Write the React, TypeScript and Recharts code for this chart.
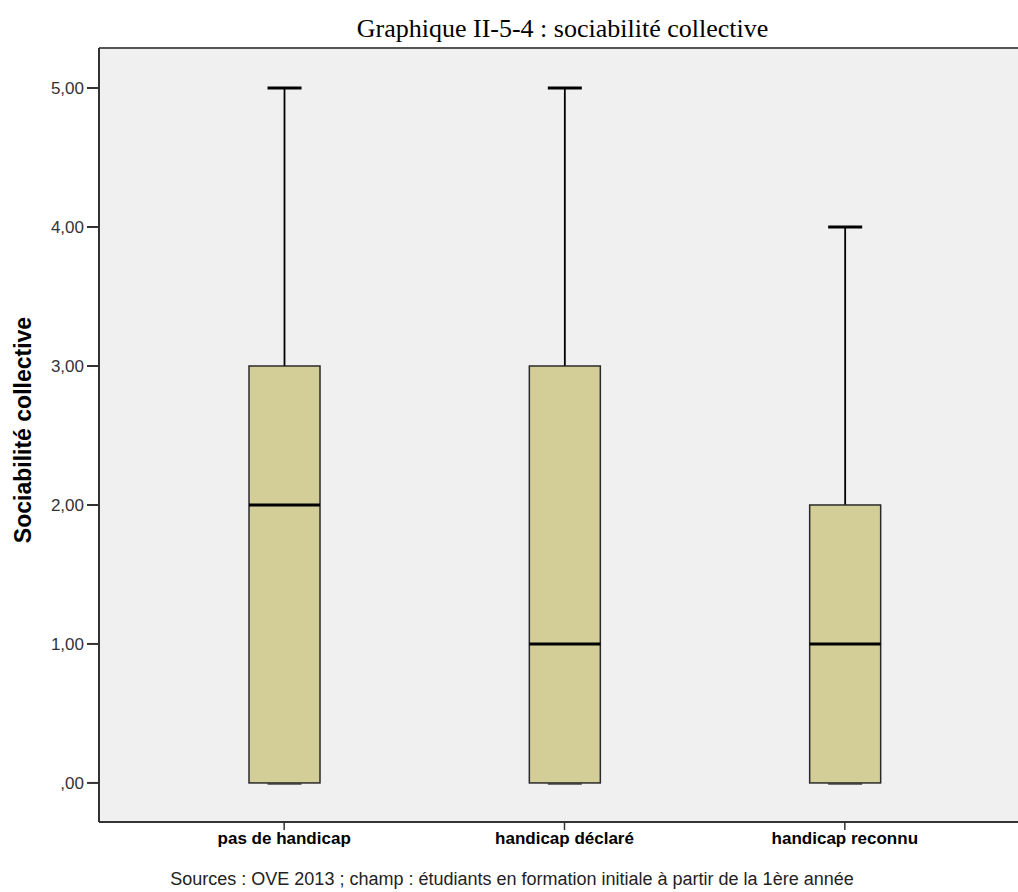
import React from "react";
import {
  ComposedChart,
  Bar,
  XAxis,
  YAxis,
  CartesianGrid,
  ReferenceLine,
} from "recharts";

const categories = ["pas de handicap", "handicap déclaré", "handicap reconnu"];
const minValues = [0, 0, 0];
const q1Values = [0, 0, 0];
const medianValues = [2, 1, 1];
const q3Values = [3, 3, 2];
const maxValues = [5, 5, 4];
const yTicks = [0, 1, 2, 3, 4, 5];
const yTickLabels = [",00", "1,00", "2,00", "3,00", "4,00", "5,00"];

const TITLE = "Graphique II-5-4 : sociabilité collective";
const Y_LABEL = "Sociabilité collective";
const CAPTION =
  "Sources : OVE 2013 ; champ : étudiants en formation initiale à partir de la 1ère année";

const data = categories.map((name, i) => ({
  name,
  min: minValues[i],
  q1: q1Values[i],
  median: medianValues[i],
  q3: q3Values[i],
  max: maxValues[i],
}));

const Y_MIN = -0.281;
const Y_MAX = 5.288;

const BoxShape = (props: any) => {
  const { x, y, width, height, payload } = props;
  const { min, q1, median, q3, max } = payload;
  const unit = height / (max - min);
  const yOf = (v: number) => y + (max - v) * unit;
  const cx = x + width / 2;
  const capW = 34;
  return (
    <g>
      <line x1={cx} x2={cx} y1={yOf(max)} y2={yOf(q3)} stroke="#000" strokeWidth={1.8} />
      <line x1={cx} x2={cx} y1={yOf(q1)} y2={yOf(min)} stroke="#000" strokeWidth={1.8} />
      <line x1={cx - capW / 2} x2={cx + capW / 2} y1={yOf(max)} y2={yOf(max)} stroke="#000" strokeWidth={3} />
      <line x1={cx - capW / 2} x2={cx + capW / 2} y1={yOf(min) + 1} y2={yOf(min) + 1} stroke="#444" strokeWidth={1.5} />
      <rect
        x={x}
        y={yOf(q3)}
        width={width}
        height={yOf(q1) - yOf(q3)}
        fill="#d3ce97"
        stroke="#2a2a2a"
        strokeWidth={1.5}
      />
      <line x1={x} x2={x + width} y1={yOf(median)} y2={yOf(median)} stroke="#000" strokeWidth={3} />
    </g>
  );
};

export default function App() {
  return (
    <div style={{ position: "absolute", left: 0, top: 0, width: 1018, height: 892, background: "#fff", overflow: "hidden" }}>
      <div
        style={{
          position: "absolute",
          left: 0,
          width: 1125,
          top: 14,
          textAlign: "center",
          fontFamily: "'Liberation Serif', 'Times New Roman', serif",
          fontSize: 26,
          color: "#000",
          lineHeight: "30px",
          whiteSpace: "nowrap",
        }}
      >
        {TITLE}
      </div>
      <div
        style={{
          position: "absolute",
          left: 23,
          top: 430,
          transform: "translate(-50%, -50%) rotate(-90deg)",
          whiteSpace: "nowrap",
          fontFamily: "'Liberation Sans', Arial, sans-serif",
          fontWeight: "bold",
          fontSize: 23,
          lineHeight: "26px",
          color: "#000",
        }}
      >
        {Y_LABEL}
      </div>
      <ComposedChart
        width={1018}
        height={892}
        data={data}
        margin={{ top: 48, right: 0, bottom: 40, left: 39 }}
        style={{ position: "absolute", left: 0, top: 0 }}
      >
        <CartesianGrid horizontal={false} vertical={false} fill="#f0f0f0" />
        <ReferenceLine y={Y_MAX} stroke="#555" strokeWidth={2} ifOverflow="extendDomain" />
        <XAxis
          dataKey="name"
          type="category"
          height={30}
          padding={{ left: 45, right: 33 }}
          axisLine={{ stroke: "#333", strokeWidth: 2 }}
          tickLine={{ stroke: "#333", strokeWidth: 1.5 }}
          tickSize={8}
          tick={{
            fill: "#000",
            fontSize: 17,
            fontWeight: "bold",
            fontFamily: "'Liberation Sans', Arial, sans-serif",
          }}
        />
        <YAxis
          type="number"
          width={60}
          domain={[Y_MIN, Y_MAX]}
          allowDataOverflow
          ticks={yTicks}
          tickFormatter={(v: number) => yTickLabels[yTicks.indexOf(v)]}
          axisLine={{ stroke: "#333", strokeWidth: 2 }}
          tickLine={{ stroke: "#333", strokeWidth: 2 }}
          tickSize={12}
          tickMargin={3}
          tick={{
            fill: "#333",
            fontSize: 17,
            fontFamily: "'Liberation Sans', Arial, sans-serif",
          }}
        />
        <Bar
          dataKey={(d: any) => [d.min, d.max]}
          barSize={71}
          shape={BoxShape}
          isAnimationActive={false}
        />
      </ComposedChart>
      <div
        style={{
          position: "absolute",
          left: 0,
          width: 1024,
          top: 869,
          textAlign: "center",
          fontFamily: "'Liberation Sans', Arial, sans-serif",
          fontSize: 18,
          lineHeight: "20px",
          color: "#222",
          whiteSpace: "nowrap",
        }}
      >
        {CAPTION}
      </div>
    </div>
  );
}
